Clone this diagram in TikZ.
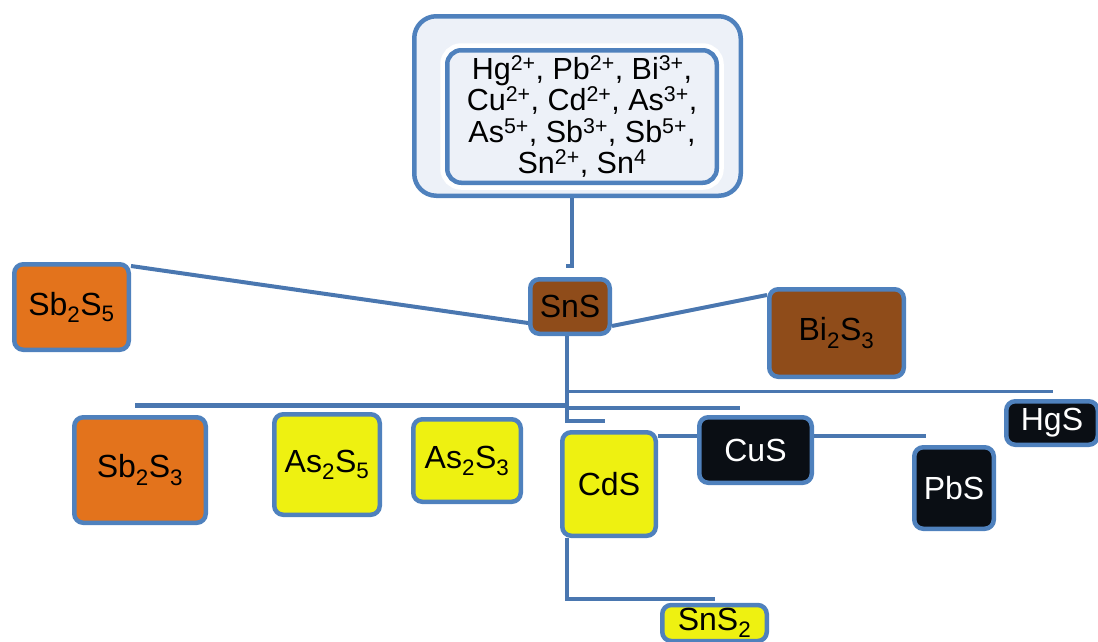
\documentclass[tikz,border=0pt]{standalone}
\usepackage{fontspec}
\setmainfont{Liberation Sans}
\usetikzlibrary{positioning, calc}

\definecolor{edgeblue}{HTML}{4F81BD}
\definecolor{lineblue}{HTML}{4A77B0}
\definecolor{paleblue}{HTML}{EDF1F8}
\definecolor{sulforange}{HTML}{E3731C}
\definecolor{sulfbrown}{HTML}{8F4C1A}
\definecolor{sulfyellow}{HTML}{EEF111}
\definecolor{sulfblack}{HTML}{0A0E14}

\begin{document}
\begin{tikzpicture}[
    x=1pt, y=-1pt,
    box/.style={draw=edgeblue, line width=4.5pt, rectangle, rounded corners=9pt, align=center, inner sep=0pt, font=\fontsize{32}{36}\selectfont},
    orangebox/.style={box, fill=sulforange},
    brownbox/.style={box, fill=sulfbrown},
    yellowbox/.style={box, fill=sulfyellow},
    blackbox/.style={box, fill=sulfblack, text=white},
    link/.style={draw=lineblue, line width=4pt}
]
\useasboundingbox (0,0) rectangle (1098,641);
\clip (0,0) rectangle (1098,641);

% Group cations (top)
\node[box, fill=paleblue, rounded corners=22pt, minimum width=326.5pt, minimum height=179.5pt] (ions) at (577.5,106) {};
\node[box, fill=paleblue, rounded corners=14pt, minimum width=269.5pt, minimum height=132.5pt,
      preaction={draw=white, line width=14pt}, font=\fontsize{30.5}{31.5}\selectfont] (ionlist) at (582,116.5)
     {Hg\textsuperscript{2+}, Pb\textsuperscript{2+}, Bi\textsuperscript{3+},\\
      Cu\textsuperscript{2+}, Cd\textsuperscript{2+}, As\textsuperscript{3+},\\
      As\textsuperscript{5+}, Sb\textsuperscript{3+}, Sb\textsuperscript{5+},\\
      Sn\textsuperscript{2+}, Sn\textsuperscript{4}};

% Second row
\node[brownbox, minimum width=79.5pt, minimum height=54.5pt] (SnS) at (570,306.5) {SnS};
\node[orangebox, minimum width=114.5pt, minimum height=85.5pt] (SbSfive) at (71.5,307) {Sb\textsubscript{2}S\textsubscript{5}};
\node[brownbox, minimum width=134.5pt, minimum height=87.5pt] (BiS) at (836.5,333) {Bi\textsubscript{2}S\textsubscript{3}};

% Third row
\node[orangebox, minimum width=131.5pt, minimum height=105.5pt] (SbSthree) at (140,470) {Sb\textsubscript{2}S\textsubscript{3}};
\node[yellowbox, minimum width=105.5pt, minimum height=100.5pt] (AsSfive) at (327,464.5) {As\textsubscript{2}S\textsubscript{5}};
\node[yellowbox, minimum width=107.5pt, minimum height=82.5pt] (AsSthree) at (467,460.5) {As\textsubscript{2}S\textsubscript{3}};
\node[yellowbox, minimum width=93.5pt, minimum height=103.5pt] (CdS) at (609,484) {CdS};
\node[blackbox, minimum width=112.5pt, minimum height=65.5pt] (CuS) at (755.5,450) {CuS};
\node[blackbox, minimum width=79.5pt, minimum height=81.5pt] (PbS) at (954,488) {PbS};
\node[blackbox, minimum width=91.5pt, minimum height=43.5pt] (HgS) at (1052,423) {HgS};

% Bottom
\node[yellowbox, minimum width=104.5pt, minimum height=36pt] (SnStwo) at (714.5,623) {SnS\textsubscript{2}};

% Connectors
\coordinate (t1) at (572,266);
\coordinate (c1) at (567,421);
\coordinate (c2) at (567,599);
\coordinate (h1) at (1053,391);
\coordinate (h2) at (135,405);
\coordinate (h3) at (740,408);
\coordinate (h4) at (926,436);

\draw[link] (t1 |- ions.south) -- (t1) -- ++(-6,0);
\draw[link] ([yshift=-4pt]SbSfive.north east) -- ([yshift=-16.5pt]SnS.west);
\draw[link] ([yshift=-19.5pt]SnS.east) -- ([yshift=38pt]BiS.west);

\draw[link] (c1 |- SnS.south) -- (c1) -- ++(38,0);
\draw[link, line width=3pt] (c1 |- h1) -- (h1);
\draw[link, line width=5pt] (h2) -- (c1 |- h2);
\draw[link] (c1 |- h3) -- (h3);

\draw[link] (CdS.east |- h4) -- (CuS.west |- h4);
\draw[link] (CuS.east |- h4) -- (h4);

\draw[link] (c2 |- CdS.south) -- (c2) -- (SnStwo.north |- c2);

\end{tikzpicture}
\end{document}
